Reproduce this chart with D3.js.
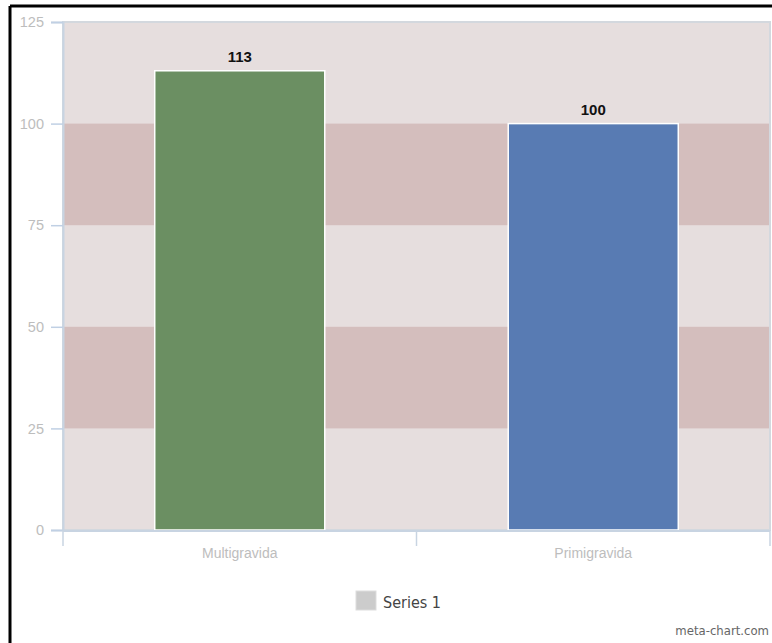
<!DOCTYPE html>
<html>
<head>
<meta charset="utf-8">
<script src="https://cdn.jsdelivr.net/npm/d3@7/dist/d3.min.js"></script>
<style>
  html, body { margin: 0; padding: 0; background: #fff; }
  svg { display: block; }
</style>
</head>
<body>
<svg id="chart" width="772" height="643"></svg>
<script>
// Chart data
const categories = ["Multigravida", "Primigravida"];
const values = [113, 100];
const barColors = ["#6b8f62", "#587bb3"];
const yTicks = [0, 25, 50, 75, 100, 125];
const seriesName = "Series 1";
const credit = "meta-chart.com";

const W = 772, H = 643;
const plot = { left: 63, right: 770, top: 22, bottom: 530 };
const narrow = "Liberation Sans Narrow, Arial Narrow, Liberation Sans, sans-serif";

const svg = d3.select("#chart");

// outer frame (top and left edges)
svg.append("line").attr("x1", 10).attr("x2", W).attr("y1", 6).attr("y2", 6)
  .attr("stroke", "#000").attr("stroke-width", 3);
svg.append("line").attr("x1", 10).attr("x2", 10).attr("y1", 6).attr("y2", H)
  .attr("stroke", "#000").attr("stroke-width", 3);

const y = d3.scaleLinear().domain([0, 125]).range([plot.bottom, plot.top]);
const pad = 0.519;
const x = d3.scaleBand().domain(categories).range([plot.left, plot.right])
  .paddingInner(pad).paddingOuter(pad / 2);

// plot background and alternating bands
svg.append("rect")
  .attr("x", plot.left).attr("y", plot.top)
  .attr("width", plot.right - plot.left).attr("height", plot.bottom - plot.top)
  .attr("fill", "#e6dede").attr("stroke", "#d3d8de").attr("stroke-width", 2);

const bandPairs = d3.pairs(yTicks).filter((d, i) => i % 2 === 1);
svg.append("g").selectAll("rect").data(bandPairs).join("rect")
  .attr("x", plot.left + 1).attr("width", plot.right - plot.left - 2)
  .attr("y", d => y(d[1])).attr("height", d => y(d[0]) - y(d[1]))
  .attr("fill", "#d4bebd");

// y axis
const yAxis = svg.append("g").attr("transform", `translate(${plot.left},0)`)
  .call(d3.axisLeft(y).tickValues(yTicks).tickSize(12).tickPadding(7));
yAxis.select(".domain").attr("stroke", "#c8d4e2").attr("stroke-width", 2);
yAxis.selectAll(".tick line").attr("stroke", "#c0d0e4").attr("stroke-width", 1.5);
yAxis.selectAll(".tick text")
  .attr("fill", "#bdbdbd").attr("font-family", narrow)
  .attr("font-size", 14.5);

// bars
svg.append("g").selectAll("rect").data(values).join("rect")
  .attr("x", (d, i) => x(categories[i]))
  .attr("width", x.bandwidth())
  .attr("y", d => y(d))
  .attr("height", d => y(0) - y(d))
  .attr("fill", (d, i) => barColors[i])
  .attr("stroke", "#ffffff").attr("stroke-width", 1.5);

// value labels
svg.append("g").selectAll("text").data(values).join("text")
  .attr("x", (d, i) => x(categories[i]) + x.bandwidth() / 2)
  .attr("y", d => y(d) - 9)
  .attr("text-anchor", "middle")
  .attr("font-family", narrow)
  .attr("font-weight", "bold").attr("font-size", 15)
  .attr("fill", "#111")
  .text(d => d);

// x axis: baseline, boundary ticks, category labels
svg.append("line")
  .attr("x1", plot.left).attr("x2", plot.right)
  .attr("y1", plot.bottom + 1).attr("y2", plot.bottom + 1)
  .attr("stroke", "#c8d4e2").attr("stroke-width", 2);
const boundaries = categories.map(c => x(c) - x.step() * pad / 2).concat([plot.right]);
svg.append("g").selectAll("line").data(boundaries).join("line")
  .attr("x1", d => d).attr("x2", d => d)
  .attr("y1", plot.bottom).attr("y2", plot.bottom + 16)
  .attr("stroke", "#c8d4e2").attr("stroke-width", 1.5);
svg.append("g").selectAll("text").data(categories).join("text")
  .attr("x", d => x(d) + x.bandwidth() / 2)
  .attr("y", plot.bottom + 28)
  .attr("text-anchor", "middle")
  .attr("font-family", narrow)
  .attr("font-size", 14)
  .attr("fill", "#bdbdbd")
  .text(d => d);

// legend
const legend = svg.append("g").attr("transform", "translate(356,591)");
legend.append("rect").attr("width", 20).attr("height", 19)
  .attr("fill", "#cccccc").attr("stroke", "#dddddd").attr("stroke-width", 1);
legend.append("text").attr("x", 27).attr("y", 17)
  .attr("font-family", "DejaVu Sans Condensed, DejaVu Sans, sans-serif")
  .attr("font-stretch", "condensed")
  .attr("font-size", 16).attr("fill", "#444")
  .text(seriesName);

// credit
svg.append("text").attr("x", 769).attr("y", 635)
  .attr("text-anchor", "end")
  .attr("font-family", "DejaVu Sans Condensed, DejaVu Sans, sans-serif")
  .attr("font-stretch", "condensed")
  .attr("font-size", 13).attr("fill", "#666")
  .text(credit);
</script>
</body>
</html>
